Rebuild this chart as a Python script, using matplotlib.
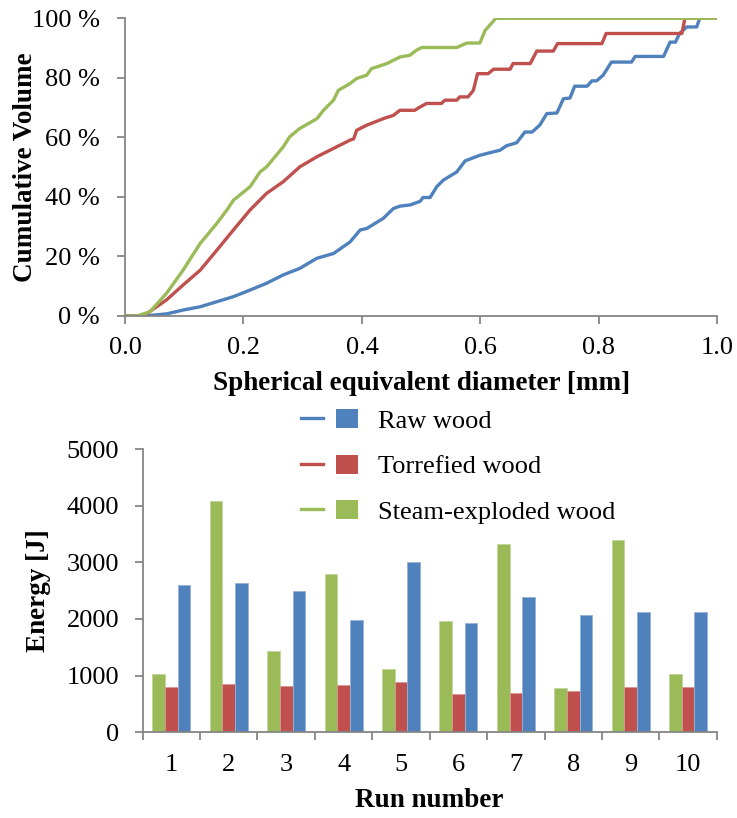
import matplotlib
matplotlib.use('Agg')
import matplotlib.pyplot as plt
from matplotlib.lines import Line2D
from matplotlib.patches import Patch
from matplotlib.legend_handler import HandlerTuple

plt.rcParams['font.family'] = ['Liberation Serif', 'DejaVu Serif']

# cumulative volume curves (diameter in mm, volume in %)
raw_x = [0, 0.031, 0.070, 0.098, 0.127, 0.155, 0.183, 0.211, 0.239, 0.267, 0.295, 0.324, 0.352,
         0.380, 0.397, 0.408, 0.436, 0.453, 0.464, 0.481, 0.498, 0.503, 0.515, 0.526, 0.537,
         0.560, 0.574, 0.599, 0.633, 0.644, 0.661, 0.675, 0.687, 0.700, 0.712, 0.729, 0.740,
         0.751, 0.759, 0.780, 0.788, 0.796, 0.807, 0.821, 0.855, 0.861, 0.909, 0.920, 0.929,
         0.936, 0.948, 0.965, 0.970, 1.0]
raw_y = [0, 0, 0.7, 2.0, 3.1, 4.8, 6.5, 8.7, 11.0, 13.8, 16.0, 19.4, 21.0,
         24.9, 28.9, 29.4, 32.8, 36.1, 36.9, 37.3, 38.5, 39.8, 39.8, 43.4, 45.6,
         48.4, 52.1, 54.0, 55.7, 57.2, 58.2, 61.8, 61.8, 64.1, 68.0, 68.2, 73.0,
         73.2, 77.2, 77.2, 79.0, 79.0, 80.9, 85.3, 85.3, 87.2, 87.2, 92.0, 92.0,
         94.9, 97.1, 97.1, 100, 100]

tor_x = [0, 0.031, 0.070, 0.098, 0.127, 0.155, 0.183, 0.211, 0.239, 0.267, 0.295, 0.324, 0.352,
         0.380, 0.386, 0.391, 0.408, 0.436, 0.453, 0.464, 0.489, 0.498, 0.509, 0.534, 0.540,
         0.560, 0.565, 0.579, 0.588, 0.595, 0.613, 0.622, 0.650, 0.655, 0.684, 0.695, 0.723,
         0.730, 0.805, 0.812, 0.940, 0.945, 1.0]
tor_y = [0, 0, 5.4, 10.4, 15.4, 22.1, 28.9, 35.6, 41.2, 45.1, 50.1, 53.5, 56.3,
         59.1, 59.5, 62.4, 64.1, 66.3, 67.4, 69.1, 69.1, 70.2, 71.4, 71.4, 72.5,
         72.5, 73.6, 73.6, 75.8, 81.4, 81.4, 82.9, 82.9, 84.8, 84.8, 89.0, 89.0,
         91.5, 91.5, 94.9, 94.9, 100, 100]

ste_x = [0, 0.020, 0.042, 0.070, 0.098, 0.127, 0.155, 0.172, 0.183, 0.211, 0.228, 0.239, 0.267,
         0.278, 0.295, 0.324, 0.335, 0.352, 0.360, 0.380, 0.391, 0.408, 0.416, 0.442, 0.464,
         0.481, 0.492, 0.501, 0.560, 0.577, 0.599, 0.608, 0.626, 1.0]
ste_y = [0, 0, 1.4, 7.6, 15.4, 24.4, 31.1, 35.6, 38.9, 43.4, 48.4, 50.1, 56.8,
         60.2, 63.0, 66.3, 69.1, 72.5, 75.8, 78.1, 79.8, 80.9, 83.1, 84.8, 87.0,
         87.6, 89.3, 90.2, 90.2, 91.7, 91.7, 96.0, 100, 100]

# grinding energy per run
runs = ['1', '2', '3', '4', '5', '6', '7', '8', '9', '10']
energy_raw = [2606, 2629, 2494, 1988, 3012, 1929, 2382, 2065, 2129, 2129]
energy_tor = [800, 847, 824, 835, 882, 676, 700, 729, 800, 794]
energy_ste = [1035, 4076, 1435, 2788, 1118, 1959, 3318, 776, 3388, 1035]

labels = ['Raw wood', 'Torrefied wood', 'Steam-exploded wood']
c_blue, c_red, c_green = '#4F81BD', '#C0504D', '#9BBB59'
gray = '#868686'

fig = plt.figure(figsize=(7.37, 8.18), dpi=100)

# --- top: cumulative curves
ax1 = fig.add_axes([0.1696, 0.6137, 0.8039, 0.3639])
ax1.plot(raw_x, raw_y, color=c_blue, lw=2.4)
ax1.plot(tor_x, tor_y, color=c_red, lw=2.4)
ax1.plot(ste_x, ste_y, color=c_green, lw=2.4)
ax1.set_xlim(0, 1)
ax1.set_ylim(0, 100)
ax1.set_xticks([0, 0.2, 0.4, 0.6, 0.8, 1.0])
ax1.set_xticklabels(['0.0', '0.2', '0.4', '0.6', '0.8', '1.0'])
ax1.set_yticks([0, 20, 40, 60, 80, 100])
ax1.set_yticklabels([f'{v} %' for v in [0, 20, 40, 60, 80, 100]])
ax1.set_xlabel('Spherical equivalent diameter [mm]', fontsize=19.5, fontweight='bold', labelpad=9)
ax1.set_ylabel('Cumulative Volume', fontsize=19.5, fontweight='bold', labelpad=-4)

# --- bottom: energy bars
ax2 = fig.add_axes([0.1936, 0.1048, 0.7789, 0.3463])
w = 0.22
pos = list(range(len(runs)))
ax2.bar([p - w for p in pos], energy_ste, w, color=c_green, edgecolor='#C3D69B', lw=0.6)
ax2.bar(pos, energy_tor, w, color=c_red, edgecolor='#D99694', lw=0.6)
ax2.bar([p + w for p in pos], energy_raw, w, color=c_blue, edgecolor='#95B3D7', lw=0.6)
ax2.set_xlim(-0.5, len(runs) - 0.5)
ax2.set_ylim(0, 5000)
ax2.set_yticks([0, 1000, 2000, 3000, 4000, 5000])
ax2.set_xticks([p - 0.5 for p in pos] + [len(runs) - 0.5])
ax2.set_xticklabels([])
ax2.set_xticks(pos, minor=True)
ax2.set_xticklabels(runs, minor=True)
ax2.tick_params(axis='x', which='minor', length=0, pad=16)
ax2.set_xlabel('Run number', fontsize=19.5, fontweight='bold', labelpad=8)
ax2.set_ylabel('Energy [J]', fontsize=19.5, fontweight='bold', labelpad=11)

for ax in (ax1, ax2):
    for s in ['top', 'right']:
        ax.spines[s].set_visible(False)
    for s in ['left', 'bottom']:
        ax.spines[s].set_color(gray)
        ax.spines[s].set_linewidth(1.3)
    ax.tick_params(which='major', direction='out', length=6, width=1.3, color=gray,
                   labelsize=19, pad=8)
    ax.tick_params(which='minor', labelsize=19)
ax1.tick_params(axis='x', pad=9)
ax1.tick_params(axis='y', pad=12)
ax2.tick_params(axis='y', pad=11)

handles = [(Line2D([], [], color=c, lw=2.4), Patch(facecolor=c))
           for c in (c_blue, c_red, c_green)]
fig.legend(handles, labels, handler_map={tuple: HandlerTuple(ndivide=None, pad=0.5)},
           loc='upper left', bbox_to_anchor=(0.409, 0.5), frameon=False,
           fontsize=19, handlelength=2.15, handleheight=0.75, handletextpad=0.75,
           labelspacing=0.82, borderpad=0, borderaxespad=0)

fig.savefig('out.png', dpi=100)
